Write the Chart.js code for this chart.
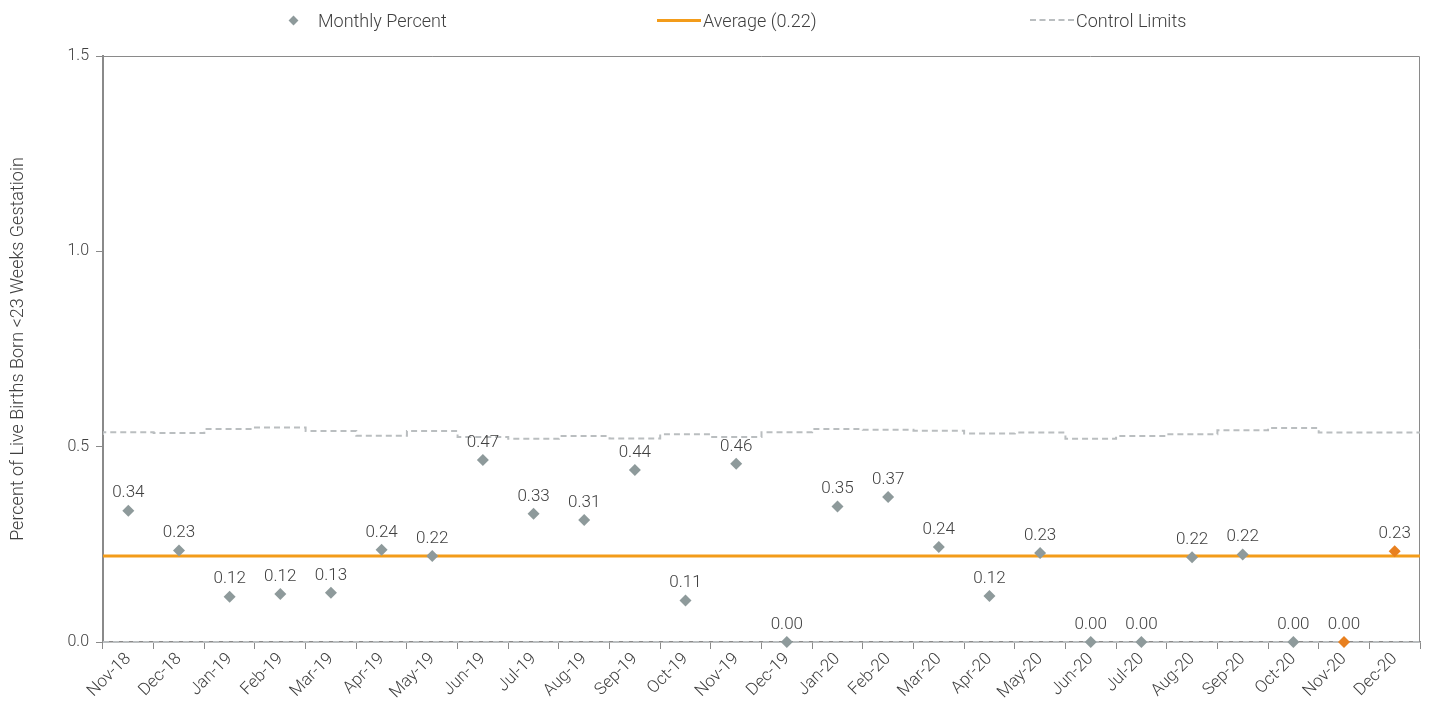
<!DOCTYPE html>
<html>
<head>
<meta charset="utf-8">
<script src="https://cdn.jsdelivr.net/npm/chart.js@4.4.1/dist/chart.umd.min.js"></script>
<style>
  html, body { margin: 0; padding: 0; background: #fff; }
  #wrap { position: relative; width: 1430px; height: 704px; }
  #legend { position: absolute; top: 0; left: 0; width: 1430px; height: 40px; font-family: Roboto, "Noto Sans", sans-serif; font-weight: 300; font-size: 18px; color: #404040; }
  .item { position: absolute; top: 8px; display: flex; align-items: center; height: 24px; }
  .diamond { width: 7px; height: 7px; background: #8E9A9B; transform: rotate(45deg); margin-right: 21px; margin-left: 3px; }
  .solid { width: 44px; height: 3px; background: #F39C1A; margin-right: 2px; }
  .dashed { width: 44px; height: 0; border-top: 2px dashed #BABEC0; margin-right: 2px; }
</style>
</head>
<body>
<div id="wrap">
  <canvas id="c" width="1430" height="704"></canvas>
  <div id="legend">
    <div class="item" style="left:287px"><span class="diamond"></span><span>Monthly Percent</span></div>
    <div class="item" style="left:657px"><span class="solid"></span><span>Average (0.22)</span></div>
    <div class="item" style="left:1030px"><span class="dashed"></span><span>Control Limits</span></div>
  </div>
</div>
<script>
const months = ["Nov-18","Dec-18","Jan-19","Feb-19","Mar-19","Apr-19","May-19","Jun-19","Jul-19","Aug-19","Sep-19","Oct-19","Nov-19","Dec-19","Jan-20","Feb-20","Mar-20","Apr-20","May-20","Jun-20","Jul-20","Aug-20","Sep-20","Oct-20","Nov-20","Dec-20"];
const monthlyPercent = [0.336,0.234,0.116,0.123,0.126,0.236,0.220,0.466,0.328,0.312,0.440,0.106,0.456,0.000,0.347,0.371,0.243,0.118,0.228,0.000,0.000,0.217,0.224,0.000,0.000,0.232];
const highlighted = [false,false,false,false,false,false,false,false,false,false,false,false,false,false,false,false,false,false,false,false,false,false,false,false,true,true];
const averageValue = 0.22;
const upperLimit = [0.530,0.537,0.535,0.545,0.549,0.540,0.528,0.540,0.525,0.520,0.527,0.521,0.532,0.525,0.537,0.545,0.543,0.541,0.534,0.536,0.520,0.527,0.532,0.542,0.548,0.536];
const lowerLimit = [0,0,0,0,0,0,0,0,0,0,0,0,0,0,0,0,0,0,0,0,0,0,0,0,0,0];
const yTicks = [0, 0.5, 1.0, 1.5];

const GRAY = '#8E9A9B', ORANGE = '#E8801F', AVG = '#F39C1A', LIMIT = '#BABEC0', AXIS = '#8A8A8A', TEXT = '#404040';
const FONT = 'Roboto, "Noto Sans", sans-serif';

function stepData(arr) {
  const pts = arr.map((v, i) => ({ x: i - 0.5, y: v }));
  pts.push({ x: arr.length - 0.5, y: arr[arr.length - 1] });
  return pts;
}

const labelPlugin = {
  id: 'pointLabels',
  afterDatasetsDraw(chart) {
    const meta = chart.getDatasetMeta(0);
    const ctx = chart.ctx;
    ctx.save();
    ctx.font = '300 17px ' + FONT;
    ctx.fillStyle = TEXT;
    ctx.textAlign = 'center';
    ctx.textBaseline = 'bottom';
    meta.data.forEach((el, i) => {
      ctx.fillText(monthlyPercent[i].toFixed(2), el.x, el.y - 9);
    });
    ctx.restore();
  }
};

const framePlugin = {
  id: 'frame',
  beforeDatasetsDraw(chart) {
    const a = chart.chartArea, ctx = chart.ctx;
    ctx.save();
    ctx.strokeStyle = AXIS;
    ctx.lineWidth = 1;
    ctx.beginPath();
    ctx.moveTo(a.left, a.top + 0.5);
    ctx.lineTo(a.right - 0.5, a.top + 0.5);
    ctx.lineTo(a.right - 0.5, a.bottom);
    ctx.stroke();
    ctx.restore();
  }
};

new Chart(document.getElementById('c'), {
  type: 'line',
  data: {
    labels: months,
    datasets: [
      {
        label: 'Monthly Percent',
        data: monthlyPercent,
        xAxisID: 'x',
        showLine: false,
        clip: false,
        pointStyle: 'rectRot',
        pointRadius: 6,
        pointHoverRadius: 6,
        pointBackgroundColor: highlighted.map(h => h ? ORANGE : GRAY),
        pointBorderColor: highlighted.map(h => h ? ORANGE : GRAY),
        pointBorderWidth: 0,
        order: 0
      },
      {
        label: 'Average (0.22)',
        data: [{ x: -0.5, y: averageValue }, { x: months.length - 0.5, y: averageValue }],
        xAxisID: 'x2',
        borderColor: AVG,
        borderWidth: 3,
        pointRadius: 0,
        order: 1
      },
      {
        label: 'Upper Control Limit',
        data: stepData(upperLimit),
        xAxisID: 'x2',
        stepped: 'after',
        borderColor: LIMIT,
        borderWidth: 2,
        borderDash: [6, 4],
        pointRadius: 0,
        order: 2
      },
      {
        label: 'Lower Control Limit',
        data: stepData(lowerLimit),
        xAxisID: 'x2',
        stepped: 'after',
        clip: false,
        borderColor: LIMIT,
        borderWidth: 2,
        borderDash: [6, 4],
        pointRadius: 0,
        order: 2
      }
    ]
  },
  options: {
    responsive: false,
    animation: false,
    events: [],
    layout: { padding: { top: 56, right: 10, left: 8, bottom: 0 } },
    plugins: { legend: { display: false }, tooltip: { enabled: false } },
    scales: {
      x: {
        type: 'category',
        offset: true,
        grid: { display: true, offset: true, drawOnChartArea: false, drawTicks: true, tickLength: 7, color: AXIS },
        border: { display: true, color: AXIS, width: 1.5 },
        ticks: { color: TEXT, font: { family: FONT, size: 17, weight: 300 }, maxRotation: 45, minRotation: 45, autoSkip: false, padding: 0 },
        afterFit(scale) { scale.height = 62; }
      },
      x2: {
        type: 'linear',
        display: false,
        min: -0.5,
        max: months.length - 0.5
      },
      y: {
        min: 0,
        max: 1.5,
        afterBuildTicks(axis) { axis.ticks = yTicks.map(v => ({ value: v })); },
        grid: { display: true, drawOnChartArea: false, drawTicks: true, tickLength: 7, color: AXIS },
        border: { display: true, color: AXIS, width: 2 },
        ticks: { color: TEXT, font: { family: FONT, size: 16, weight: 300 }, padding: 7, callback: v => Number(v).toFixed(1) },
        title: { display: true, text: 'Percent of Live Births Born <23 Weeks Gestatioin', color: TEXT, font: { family: FONT, size: 18, weight: 300 }, padding: { top: 0, bottom: 27 } },
        afterFit(scale) { scale.width = 95; }
      }
    }
  },
  plugins: [labelPlugin, framePlugin]
});
</script>
</body>
</html>
